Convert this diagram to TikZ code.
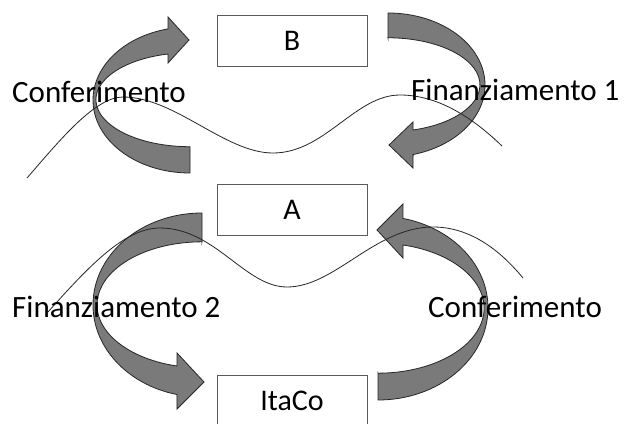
\documentclass[tikz,border=0pt]{standalone}
\usepackage{fontspec}
\setmainfont{Carlito}
\begin{document}
\begin{tikzpicture}[x=1pt,y=-1pt,
  box/.style={draw=boxline, line width=1pt, fill=white, minimum width=150pt, minimum height=51pt, inner sep=0pt, font=\fontsize{30}{36}\selectfont},
  lbl/.style={inner sep=0pt, anchor=base west, font=\fontsize{31}{37}\selectfont},
  bigarrow/.style={fill=arrowgray, draw=black!85, line width=0.8pt, line join=miter},
  wave/.style={draw=black!85, line width=0.8pt}]
\definecolor{arrowgray}{RGB}{122,122,122}
\definecolor{boxline}{RGB}{90,90,90}
\useasboundingbox (0,0) rectangle (626,423);
\clip (0,0) rectangle (626,423);
\fill[white] (0,0) rectangle (626,423);

% entities
\node[box] (B) at (292,40.5) {B};
\node[box] (A) at (292,209.5) {A};
\node[box] (I) at (292,400.5) {ItaCo};

% curved block arrows
% A -> B (Conferimento)
\draw[bigarrow] (190,147) -- (190,173)
  arc[start angle=90, end angle=256.9, x radius=97, y radius=73]
  -- (168,17) -- (189,40) -- (168,63) -- (168,54)
  arc[start angle=256.5, end angle=90, x radius=94, y radius=47] -- cycle;
% B -> A (Finanziamento 1)
\draw[bigarrow] (388,38) -- (388,13)
  arc[start angle=-90, end angle=75, x radius=97, y radius=72]
  -- (413,168) -- (389,145) -- (413,122) -- (413,130)
  arc[start angle=74.2, end angle=-90, x radius=92, y radius=47] -- cycle;
% A -> ItaCo (Finanziamento 2)
\draw[bigarrow] (202,242) -- (202,213)
  arc[start angle=270, end angle=103.3, x radius=109, y radius=92]
  -- (177,409) -- (204,382) -- (177,353) -- (177,366)
  arc[start angle=103.8, end angle=270, x radius=105, y radius=63] -- cycle;
% ItaCo -> A (Conferimento)
\draw[bigarrow] (378,373) -- (378,400)
  arc[start angle=90, end angle=-76.9, x radius=110, y radius=92]
  -- (403,204) -- (377,230) -- (403,258) -- (403,245)
  arc[start angle=-76.4, end angle=90, x radius=106, y radius=65] -- cycle;

% thin wavy lines
\coordinate (w1a) at (27,178);
\coordinate (w1b) at (123,97);
\coordinate (w1c) at (273,153);
\coordinate (w1d) at (400,95);
\coordinate (w1e) at (502,146);
\draw[wave] (w1a) .. controls (60,140) and (95,97) .. (w1b)
  .. controls (175,97) and (225,153) .. (w1c)
  .. controls (325,153) and (355,95) .. (w1d)
  .. controls (440,95) and (475,120) .. (w1e);
\coordinate (w2a) at (48,312);
\coordinate (w2b) at (160,228);
\coordinate (w2c) at (287,287);
\coordinate (w2d) at (433,227);
\coordinate (w2e) at (523,278);
\draw[wave] (w2a) .. controls (90,265) and (125,228) .. (w2b)
  .. controls (215,228) and (245,287) .. (w2c)
  .. controls (335,287) and (375,227) .. (w2d)
  .. controls (470,227) and (500,250) .. (w2e);

% labels
\node[lbl] (l1) at (12,102) {Conferimento};
\node[lbl] (l2) at (411,100) {Finanziamento 1};
\node[lbl] (l3) at (12,317) {Finanziamento 2};
\node[lbl] (l4) at (428,317) {Conferimento};
\end{tikzpicture}
\end{document}
